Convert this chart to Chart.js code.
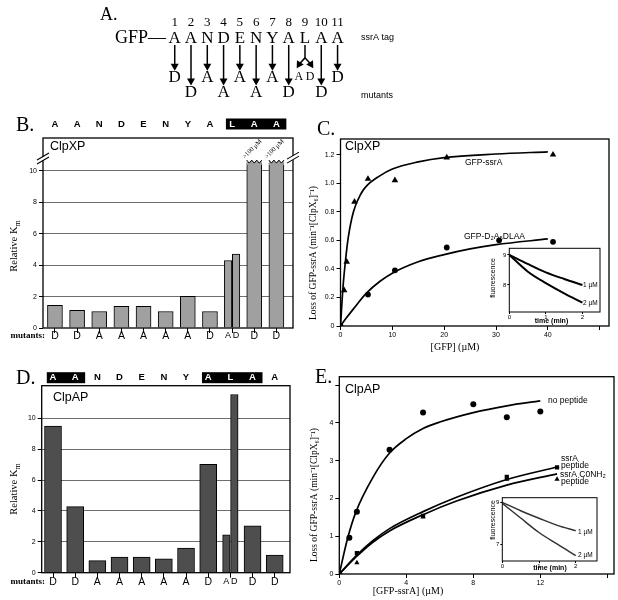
<!DOCTYPE html>
<html>
<head>
<meta charset="utf-8">
<title>ssrA tag mutants - ClpXP / ClpAP</title>
<script src="https://cdn.jsdelivr.net/npm/chart.js@4.4.1/dist/chart.umd.min.js"></script>
<style>
  body { margin: 0; background: #fff; }
  #fig { position: relative; width: 618px; height: 600px; overflow: hidden; }
  #fig canvas { position: absolute; }
</style>
</head>
<body>
<div id="fig"></div>
<script>
// ---------- data ----------
// A: the ssrA tag and the substitution made at each residue
var tagSeq = ['A','A','N','D','E','N','Y','A','L','A','A'];
var tagMut = ['D','D','A','A','A','A','A','D','A/D','D','D'];

// B / D: relative Km of each mutant (residue 9 has two mutants)
var mutSites = [1,2,3,4,5,6,7,8,9,9,10,11];
var mutLetters = ['D','D','A','A','A','A','A','D','A','D','D','D'];
var clpxKm = [1.45,1.12,1.05,1.38,1.38,1.05,2.02,1.05,4.3,4.7,10.5,10.5];
var clpxOff = [0,0,0,0,0,0,0,0,0,0,1,1];        // >100 uM, bar cut at the break
var clpaKm = [9.5,4.28,0.78,1.02,1.02,0.9,1.6,7.03,2.45,11.55,3.03,1.15];
var clpxKey = [0,0,0,0,0,0,0,0,1,1,1];          // residues boxed in black
var clpaKey = [1,1,0,0,0,0,0,1,1,1,0];

// C: ClpXP, loss of GFP vs [GFP]
var cSsrX = [0,0.7,1.2,2.7,5.3,10.5,20.5,41];
var cSsrY = [0,0.25,0.45,0.87,1.03,1.02,1.18,1.2];
var cMutX = [0,5.3,10.5,20.5,30.6,41];
var cMutY = [0,0.22,0.39,0.55,0.6,0.59];
var cSsrFitX = [0,0.5,1,1.5,2.5,4,5,7.5,10,15,20,30,40];
var cSsrFitY = [0,0.28,0.47,0.62,0.8,0.93,0.98,1.05,1.1,1.15,1.18,1.205,1.22];
var cMutFitX = [0,1,2.5,5,7.5,10,15,20,25,30,40];
var cMutFitY = [0,0.05,0.12,0.23,0.31,0.37,0.45,0.5,0.54,0.57,0.61];
// C inset: fluorescence vs time
var cInsT = [0,0.5,1,1.5,2];
var cIns1 = [9.0,8.7,8.42,8.2,8.0];
var cIns2 = [9.0,8.45,8.06,7.72,7.41];

// E: ClpAP, loss of GFP-ssrA vs [GFP-ssrA]
var eNoX = [0,0.6,1.05,3,5,8,10,12];
var eNoY = [0,0.96,1.65,3.29,4.27,4.49,4.15,4.3];
var ePepX = [0,1.05,5,10,13];
var ePepY = [0,0.55,1.54,2.57,2.82];
var eAmX = [1.05,5,10,13];
var eAmY = [0.3,1.51,2.51,2.51];
var eNoFitX = [0,0.5,1,2,3,4,5,6,8,10,12];
var eNoFitY = [0,0.95,1.65,2.55,3.2,3.58,3.85,4.02,4.27,4.45,4.58];
var ePepFitX = [0,1,2,3,5,7,10,13];
var ePepFitY = [0,0.48,0.88,1.2,1.65,2.03,2.5,2.83];
var eAmFitX = [0,1,2,3,5,7,10,13];
var eAmFitY = [0,0.45,0.84,1.14,1.57,1.93,2.35,2.65];
// E inset
var eInsT = [0,0.5,1,1.5,2];
var eIns1 = [9.0,8.6,8.24,7.9,7.64];
var eIns2 = [8.95,8.25,7.56,7.0,6.46];

// ---------- helpers ----------
var SERIF = "'Liberation Serif', 'Times New Roman', serif";
var SANS = "'Liberation Sans', Arial, sans-serif";
Chart.defaults.font.family = SANS;
Chart.defaults.color = '#000';
Chart.defaults.animation = false;
Chart.defaults.responsive = false;
Chart.defaults.devicePixelRatio = 1;
Chart.defaults.plugins.legend.display = false;
Chart.defaults.plugins.tooltip.enabled = false;

function pts(xs, ys) { return xs.map(function (x, i) { return { x: x, y: ys[i] }; }); }

function txt(ctx, s, x, y, font, align, rot, color) {
  ctx.save();
  ctx.font = font;
  ctx.fillStyle = color || '#000';
  ctx.textAlign = align || 'center';
  ctx.textBaseline = 'middle';
  ctx.translate(x, y);
  if (rot) ctx.rotate(rot * Math.PI / 180);
  ctx.fillText(s, 0, 0);
  ctx.restore();
}

function frame(ctx, a, w) {
  ctx.save();
  ctx.strokeStyle = '#000';
  ctx.lineWidth = w || 1.2;
  ctx.strokeRect(a.left, a.top, a.right - a.left, a.bottom - a.top);
  ctx.restore();
}

// box = canvas rect on the page, area = wanted chart area on the page
function mk(box, area, cfg) {
  var c = document.createElement('canvas');
  c.width = box.w; c.height = box.h;
  c.style.left = box.l + 'px'; c.style.top = box.t + 'px';
  document.getElementById('fig').appendChild(c);
  cfg.options.layout = { padding: { left: 0, top: area.t - box.t, right: box.l + box.w - area.r, bottom: 0 } };
  if (cfg.options.scales.x.display !== false) cfg.options.scales.x.afterFit = function (s) { s.height = box.t + box.h - area.b; };
  if (cfg.options.scales.y.display !== false) cfg.options.scales.y.afterFit = function (s) { s.width = area.l - box.l; };
  return new Chart(c, cfg);
}

// ---------- A: tag diagram ----------
(function () {
  var box = { l: 0, t: 0, w: 618, h: 112 };
  var shafts = [], heads = [], rots = [];
  tagMut.forEach(function (m, i) {
    var p = i + 1;
    if (m.indexOf('/') > 0) {
      shafts.push({ x: p, y: 44 }, { x: p, y: 58 }, { x: p - 0.36, y: 65 }, { x: p, y: null });
      shafts.push({ x: p, y: 58 }, { x: p + 0.36, y: 65 }, { x: p, y: null });
      heads.push({ x: p - 0.36, y: 65 }, { x: p + 0.36, y: 65 });
      rots.push(212, 148);
    } else {
      var end = (i % 2 === 0) ? 67 : 83;
      shafts.push({ x: p, y: 44 }, { x: p, y: end }, { x: p, y: null });
      heads.push({ x: p, y: end });
      rots.push(180);
    }
  });
  var plug = {
    id: 'panelA',
    afterDraw: function (chart) {
      var ctx = chart.ctx, x = chart.scales.x, y = chart.scales.y;
      txt(ctx, 'A.', 100, 15, '18px ' + SERIF, 'left');
      txt(ctx, 'GFP\u2014', 115, y.getPixelForValue(37), '18px ' + SERIF, 'left');
      tagSeq.forEach(function (s, i) {
        var px = x.getPixelForValue(i + 1);
        txt(ctx, String(i + 1), px, y.getPixelForValue(20), '13px ' + SERIF);
        txt(ctx, s, px, y.getPixelForValue(37), '17px ' + SERIF);
        var m = tagMut[i];
        if (m.indexOf('/') > 0) {
          var two = m.split('/');
          txt(ctx, two[0], x.getPixelForValue(i + 1 - 0.38), y.getPixelForValue(79), '12px ' + SERIF);
          txt(ctx, two[1], x.getPixelForValue(i + 1 + 0.32), y.getPixelForValue(79), '12px ' + SERIF);
        } else {
          txt(ctx, m, px, y.getPixelForValue(i % 2 === 0 ? 80 : 96), '17px ' + SERIF);
        }
      });
      txt(ctx, 'ssrA tag', 361, y.getPixelForValue(36), '9px ' + SANS, 'left');
      txt(ctx, 'mutants', 361, y.getPixelForValue(99), '9px ' + SANS, 'left');
    }
  };
  mk(box, { l: 0, t: 0, r: 618, b: 112 }, {
    type: 'scatter',
    data: { datasets: [
      { data: shafts, showLine: true, spanGaps: false, borderColor: '#000', borderWidth: 1.5, pointRadius: 0 },
      { data: heads, pointStyle: 'triangle', pointRadius: 4.6, pointRotation: rots, backgroundColor: '#000', borderColor: '#000', borderWidth: 0 }
    ] },
    options: {
      scales: {
        x: { type: 'linear', display: false, min: -9.448, max: 27.94 },
        y: { type: 'linear', display: false, min: 0, max: 112, reverse: true }
      }
    },
    plugins: [plug]
  });
})();

// ---------- B / D: relative Km bars ----------
function siteX(sites) {
  return sites.map(function (s, i) {
    var n = sites.filter(function (t) { return t === s; }).length;
    if (n < 2) return s;
    return s + (sites.indexOf(s) === i ? -0.18 : 0.18);
  });
}

function barPanel(o) {
  var xs = siteX(mutSites);
  var single = [], pair = [], singleIdx = [];
  xs.forEach(function (x, i) {
    if (x % 1 === 0) { single.push({ x: x, y: o.km[i] }); singleIdx.push(i); }
    else pair.push({ x: x, y: o.km[i] });
  });
  var bounds = [1.5, 2.5, 3.5, 4.5, 5.5, 6.5, 7.5, 8.5, 9.5, 10.5];
  var box = o.box;
  var plug = {
    id: 'bars' + o.letter,
    afterDraw: function (chart) {
      var ctx = chart.ctx, a = chart.chartArea, x = chart.scales.x, y = chart.scales.y;
      var X = function (p) { return p - box.l; }, Y = function (p) { return p - box.t; };
      frame(ctx, a, 1.3);
      // cut bars (Km > 100 uM)
      if (o.off) {
        var meta = chart.getDatasetMeta(0);
        singleIdx.forEach(function (i, k) {
          if (!o.off[i]) return;
          var el = meta.data[k], l = el.x - el.width / 2, r = el.x + el.width / 2, t = el.y;
          ctx.save();
          ctx.beginPath();
          ctx.moveTo(l, t + 2);
          var n = 6, step = (r - l) / n;
          for (var j = 0; j <= n; j++) ctx.lineTo(l + j * step, t - (j % 2 ? 0 : 3));
          ctx.lineTo(r, t + 2);
          ctx.closePath();
          ctx.fillStyle = o.fill; ctx.fill();
          ctx.beginPath();
          for (j = 0; j <= n; j++) ctx[j ? 'lineTo' : 'moveTo'](l + j * step, t - (j % 2 ? 0 : 3));
          ctx.strokeStyle = '#000'; ctx.lineWidth = 1; ctx.stroke();
          ctx.restore();
          txt(ctx, '>100 \u00b5M', el.x - 2, t - 14, '6.5px ' + SERIF, 'center', -45);
        });
        // axis breaks
        [[a.left, y.getPixelForValue(10.8)], [a.right, y.getPixelForValue(10.85)]].forEach(function (b) {
          ctx.save();
          ctx.fillStyle = '#fff';
          ctx.beginPath();
          ctx.moveTo(b[0] - 6, b[1] + 5.5); ctx.lineTo(b[0] + 6, b[1] - 1.5);
          ctx.lineTo(b[0] + 6, b[1] - 5.5); ctx.lineTo(b[0] - 6, b[1] + 1.5);
          ctx.closePath(); ctx.fill();
          ctx.strokeStyle = '#000'; ctx.lineWidth = 1.1;
          ctx.beginPath();
          ctx.moveTo(b[0] - 6, b[1] + 5.5); ctx.lineTo(b[0] + 6, b[1] - 1.5);
          ctx.moveTo(b[0] - 6, b[1] + 1.5); ctx.lineTo(b[0] + 6, b[1] - 5.5);
          ctx.stroke();
          ctx.restore();
        });
      }
      // the tag sequence over the plot
      var ty = Y(o.tagY);
      var i0 = -1;
      o.key.concat([0]).forEach(function (k, i) {
        if (k && i0 < 0) i0 = i;
        if (!k && i0 >= 0) {
          var l = x.getPixelForValue(i0 + 1 - 0.28), r = x.getPixelForValue(i + 0.45);
          ctx.fillStyle = '#000';
          ctx.fillRect(l, ty - 5.5, r - l, 11);
          i0 = -1;
        }
      });
      tagSeq.forEach(function (s, i) {
        txt(ctx, s, x.getPixelForValue(i + 1), ty, 'bold 9.5px ' + SANS, 'center', 0, o.key[i] ? '#fff' : '#000');
      });
      // mutant letters under the axis
      xs.forEach(function (xv, i) {
        var split = xv % 1 !== 0;
        txt(ctx, mutLetters[i], x.getPixelForValue(xv), Y(o.mutY), (split ? '9px ' : '10.5px ') + SANS);
      });
      txt(ctx, 'mutants:', X(45), Y(o.mutY), 'bold 9px ' + SERIF, 'right');
      // labels
      txt(ctx, o.letter + '.', X(16), Y(o.letterY), '20px ' + SERIF, 'left');
      txt(ctx, o.enzyme, X(o.enzX), Y(o.enzY), '12.5px ' + SANS, 'left');
      ctx.save();
      ctx.translate(X(13), Y(o.titleY));
      ctx.rotate(-Math.PI / 2);
      ctx.font = '10.5px ' + SERIF;
      var w1 = ctx.measureText('Relative K').width;
      ctx.font = '8px ' + SERIF;
      var w2 = ctx.measureText('m').width;
      ctx.textBaseline = 'alphabetic'; ctx.textAlign = 'left'; ctx.fillStyle = '#000';
      ctx.font = '10.5px ' + SERIF;
      ctx.fillText('Relative K', -(w1 + w2) / 2, 3.5);
      ctx.font = '8px ' + SERIF;
      ctx.fillText('m', -(w1 + w2) / 2 + w1, 6.5);
      ctx.restore();
    }
  };
  var ds = function (data, w) {
    return { data: data, backgroundColor: o.fill, borderColor: '#000', borderWidth: 1,
             barThickness: w, grouped: false, borderSkipped: 'bottom' };
  };
  mk(box, o.area, {
    type: 'bar',
    data: { datasets: [ds(single, o.wMain), ds(pair, 7.5)] },
    options: {
      scales: {
        x: {
          type: 'linear', min: o.xr[0], max: o.xr[1], offset: false,
          grid: { drawOnChartArea: false, drawTicks: true, tickLength: 5, color: '#000', lineWidth: 1 },
          border: { display: false },
          ticks: { callback: function () { return ''; } },
          afterBuildTicks: function (s) { s.ticks = bounds.map(function (v) { return { value: v }; }); }
        },
        y: {
          min: 0, max: o.yMax,
          border: { display: false },
          ticks: { stepSize: 2, includeBounds: false, padding: 2, font: { size: 7 },
                   callback: function (v) { return v <= 10 ? String(v) : ''; } },
          grid: {
            tickLength: 4, lineWidth: 1,
            color: function (c) { return c.tick && c.tick.value > 0 && c.tick.value <= 10 ? '#6e6e6e' : 'rgba(0,0,0,0)'; },
            tickColor: function (c) { return c.tick && c.tick.value <= 10 ? '#000' : 'rgba(0,0,0,0)'; }
          }
        }
      }
    },
    plugins: [plug]
  });
}

barPanel({ letter: 'B', enzyme: 'ClpXP', km: clpxKm, off: clpxOff, key: clpxKey, fill: '#a0a0a0', wMain: 15,
  box: { l: 0, t: 112, w: 310, h: 232 }, area: { l: 43, t: 138, r: 293, b: 328 },
  xr: [0.46, 11.75], yMax: 12.1, tagY: 124, mutY: 336, letterY: 126, enzX: 50, enzY: 147, titleY: 246 });

barPanel({ letter: 'D', enzyme: 'ClpAP', km: clpaKm, off: null, key: clpaKey, fill: '#4e4e4e', wMain: 17,
  box: { l: 0, t: 362, w: 310, h: 232 }, area: { l: 41.7, t: 385.7, r: 290, b: 572.7 },
  xr: [0.49, 11.69], yMax: 12.12, tagY: 377.7, mutY: 582, letterY: 379, enzX: 53, enzY: 398, titleY: 489 });

// ---------- C / E: degradation kinetics ----------
function curve(data, w) {
  return { data: data, showLine: true, borderColor: '#000', borderWidth: w || 1.7, pointRadius: 0,
           cubicInterpolationMode: 'monotone', fill: false };
}
function marks(data, style, r) {
  return { data: data, pointStyle: style, pointRadius: r, backgroundColor: '#000', borderColor: '#000', borderWidth: 0, showLine: false };
}

function kinPanel(o) {
  var box = o.box;
  var plug = {
    id: 'kin' + o.letter,
    afterDraw: function (chart) {
      var ctx = chart.ctx, a = chart.chartArea;
      var X = function (p) { return p - box.l; }, Y = function (p) { return p - box.t; };
      frame(ctx, a, 1.3);
      txt(ctx, o.letter + '.', X(o.letterPos[0]), Y(o.letterPos[1]), '20px ' + SERIF, 'left');
      txt(ctx, o.enzyme, X(345), Y(o.enzY), '12.5px ' + SANS, 'left');
      txt(ctx, 'Loss of GFP-ssrA (min\u207b\u00b9[ClpX\u2086]\u207b\u00b9)', X(o.yTitle[0]), Y(o.yTitle[1]), '9.5px ' + SERIF, 'center', -90);
      txt(ctx, o.xTitle, X(o.xTitlePos[0]), Y(o.xTitlePos[1]), '10px ' + SERIF);
      o.notes.forEach(function (n) { txt(ctx, n[0], X(n[1]), Y(n[2]), '8.5px ' + SANS, 'left'); });
    }
  };
  mk(box, o.area, {
    type: 'scatter',
    data: { datasets: o.datasets },
    options: {
      scales: {
        x: { type: 'linear', min: 0, max: o.xr[1], border: { display: false },
             grid: { drawOnChartArea: false, tickLength: 4, color: '#000' },
             ticks: { stepSize: o.xStep, includeBounds: false, font: { size: 7 }, padding: 1, maxRotation: 0,
                      callback: function (v) { return v <= o.xShow ? String(v) : ''; } } },
        y: { type: 'linear', min: 0, max: o.yr[1], border: { display: false },
             grid: { drawOnChartArea: false, tickLength: 4, color: '#000' },
             ticks: { stepSize: o.yStep, includeBounds: false, font: { size: 7 }, padding: 2,
                      callback: function (v) { return v > o.yShow ? '' : (v === 0 ? '0' : o.yFmt(v)); } } }
      }
    },
    plugins: [plug]
  });
}

function inset(o) {
  var box = o.box;
  var plug = {
    id: 'inset' + o.id,
    beforeDraw: function (chart) {
      var a = chart.chartArea;
      chart.ctx.fillStyle = '#fff';
      chart.ctx.fillRect(a.left, a.top, a.right - a.left, a.bottom - a.top);
    },
    afterDraw: function (chart) {
      var ctx = chart.ctx, a = chart.chartArea;
      var X = function (p) { return p - box.l; }, Y = function (p) { return p - box.t; };
      frame(ctx, a, 1);
      txt(ctx, 'fluorescence', X(493), Y(o.fluoY), '7px ' + SANS, 'center', -90);
      txt(ctx, 'time (min)', X(o.timePos[0]), Y(o.timePos[1]), 'bold 7px ' + SANS);
      txt(ctx, '1 \u00b5M', X(o.l1[0]), Y(o.l1[1]), '6.5px ' + SANS, 'left');
      txt(ctx, '2 \u00b5M', X(o.l2[0]), Y(o.l2[1]), '6.5px ' + SANS, 'left');
    }
  };
  var line = function (d) {
    return { data: d, showLine: true, borderColor: o.color, borderWidth: o.lw, pointRadius: 0, cubicInterpolationMode: 'monotone' };
  };
  mk(box, o.area, {
    type: 'scatter',
    data: { datasets: [line(pts(o.t, o.s1)), line(pts(o.t, o.s2))] },
    options: {
      scales: {
        x: { type: 'linear', min: 0, max: o.xMax, border: { display: false },
             grid: { drawOnChartArea: false, tickLength: 2, color: '#000' },
             ticks: { font: { size: 6 }, padding: 0, maxRotation: 0 },
             afterBuildTicks: function (s) { s.ticks = [0, 1, 2].map(function (v) { return { value: v }; }); } },
        y: { type: 'linear', min: o.yr[0], max: o.yr[1], border: { display: false },
             grid: { drawOnChartArea: false, tickLength: 2, color: '#000' },
             ticks: { font: { size: 6 }, padding: 1 },
             afterBuildTicks: function (s) { s.ticks = o.yTicks.map(function (v) { return { value: v }; }); } }
      }
    },
    plugins: [plug]
  });
}

kinPanel({ letter: 'C', enzyme: 'ClpXP',
  box: { l: 300, t: 112, w: 318, h: 243 }, area: { l: 340.5, t: 139, r: 609, b: 326 },
  xr: [0, 51.8], yr: [0, 1.31], xStep: 10, xShow: 40, yStep: 0.2, yShow: 1.25,
  yFmt: function (v) { return v.toFixed(1); },
  letterPos: [317, 130], enzY: 147, yTitle: [313, 253], xTitle: '[GFP] (\u00b5M)', xTitlePos: [455, 347],
  notes: [['GFP-ssrA', 465, 163], ['GFP-D\u2082A\u2085DLAA', 464, 237]],
  datasets: [
    curve(pts(cSsrFitX, cSsrFitY)), curve(pts(cMutFitX, cMutFitY)),
    marks(pts(cSsrX, cSsrY), 'triangle', 3.8), marks(pts(cMutX, cMutY), 'circle', 2.9)
  ] });

inset({ id: 'C', box: { l: 483, t: 242, w: 124, h: 85 }, area: { l: 509.3, t: 248.3, r: 600, b: 312 },
  xMax: 2.48, yr: [7.1, 9.22], yTicks: [8, 9], t: cInsT, s1: cIns1, s2: cIns2, color: '#000', lw: 2,
  fluoY: 278, timePos: [551.5, 321], l1: [583, 285], l2: [583, 303.5] });

kinPanel({ letter: 'E', enzyme: 'ClpAP',
  box: { l: 300, t: 355, w: 318, h: 245 }, area: { l: 339.3, t: 376.7, r: 616.7, b: 574 },
  xr: [0, 16.4], yr: [0, 5.22], xStep: 4, xShow: 12, yStep: 1, yShow: 4,
  yFmt: function (v) { return String(v); },
  letterPos: [315, 378], enzY: 390, yTitle: [314, 495], xTitle: '[GFP-ssrA] (\u00b5M)', xTitlePos: [408, 591],
  notes: [['no peptide', 548, 400.7], ['ssrA', 561, 458.3], ['peptide', 561, 465.7],
          ['ssrA C0NH\u2082', 560, 474.3], ['peptide', 561, 481.7]],
  datasets: [
    curve(pts(eNoFitX, eNoFitY)), curve(pts(ePepFitX, ePepFitY)), curve(pts(eAmFitX, eAmFitY)),
    marks(pts(eNoX, eNoY), 'circle', 3), marks(pts(ePepX, ePepY), 'rect', 3), marks(pts(eAmX, eAmY), 'triangle', 3)
  ] });

inset({ id: 'E', box: { l: 480, t: 490, w: 124, h: 84 }, area: { l: 502.3, t: 497.7, r: 597, b: 561 },
  xMax: 2.58, yr: [6.2, 9.22], yTicks: [7, 9], t: eInsT, s1: eIns1, s2: eIns2, color: '#333', lw: 1.5,
  fluoY: 520, timePos: [550, 567.7], l1: [578, 532.3], l2: [578, 555] });
</script>
</body>
</html>
